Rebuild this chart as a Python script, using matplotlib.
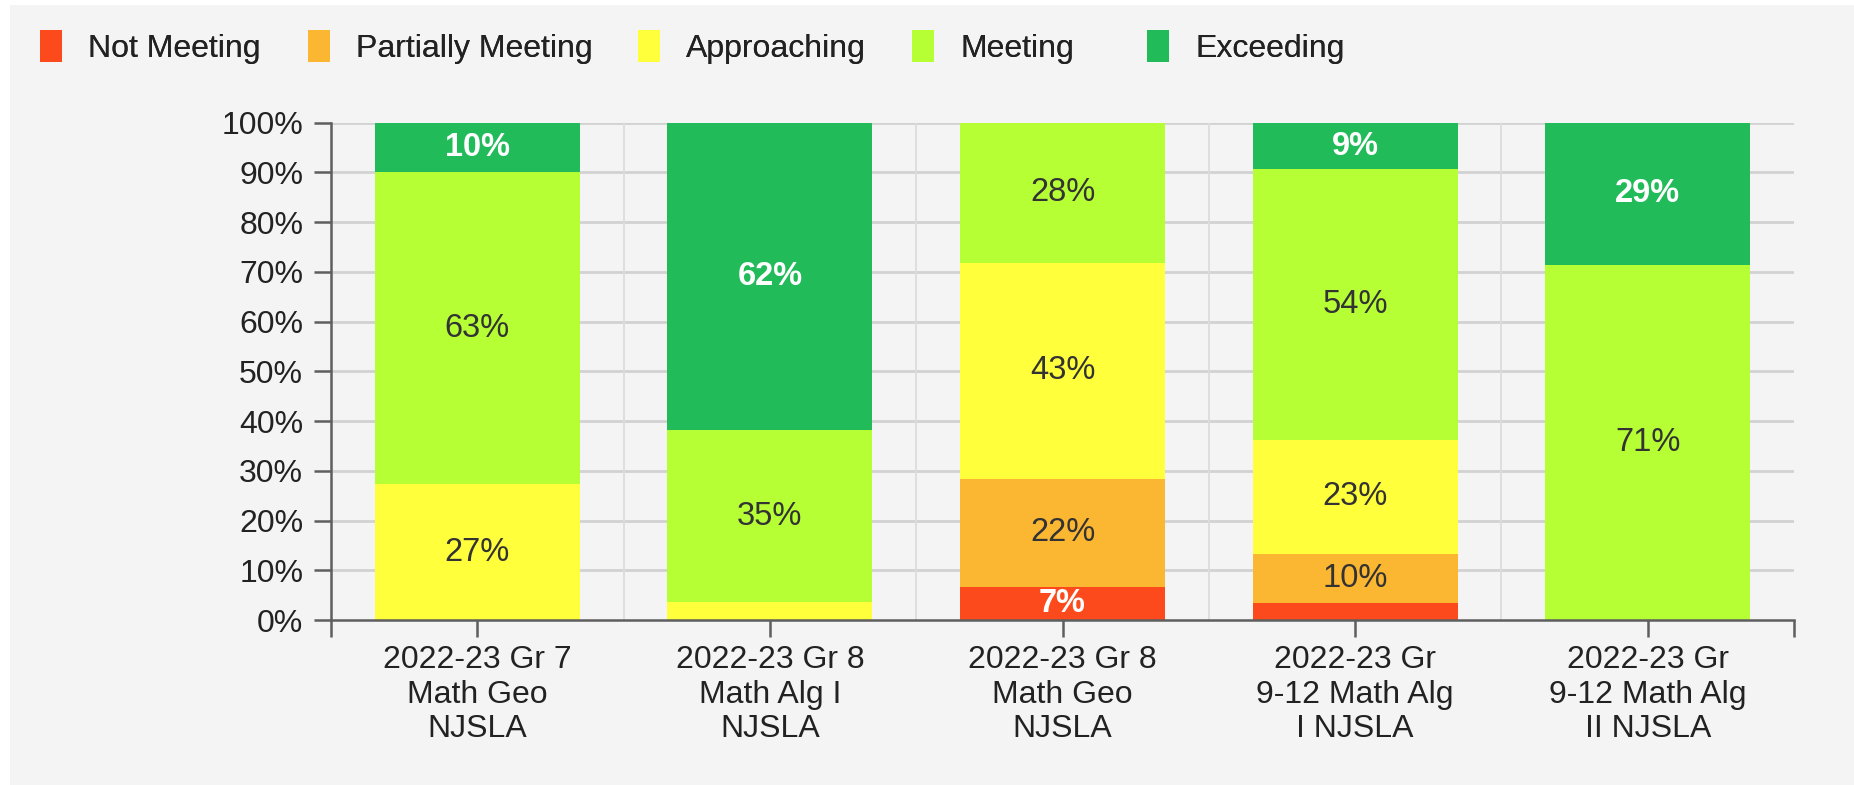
"""Stacked bar chart of NJSLA math performance levels."""

import matplotlib

matplotlib.use("Agg")
import matplotlib.pyplot as plt
from matplotlib.patches import Patch, Rectangle

plt.rcParams["font.family"] = ["Liberation Sans", "DejaVu Sans"]

categories = [
    "2022-23 Gr 7\nMath Geo\nNJSLA",
    "2022-23 Gr 8\nMath Alg I\nNJSLA",
    "2022-23 Gr 8\nMath Geo\nNJSLA",
    "2022-23 Gr\n9-12 Math Alg\nI NJSLA",
    "2022-23 Gr\n9-12 Math Alg\nII NJSLA",
]
levels = ["Not Meeting", "Partially Meeting", "Approaching", "Meeting", "Exceeding"]
not_meeting = [0, 0, 6.6, 3.4, 0]
partially_meeting = [0, 0, 21.8, 9.9, 0]
approaching = [27.3, 3.6, 43.4, 22.9, 0]
meeting = [62.7, 34.6, 28.2, 54.4, 71.4]
exceeding = [10.0, 61.8, 0, 9.4, 28.6]
y_ticks = [0, 10, 20, 30, 40, 50, 60, 70, 80, 90, 100]

series = [not_meeting, partially_meeting, approaching, meeting, exceeding]
colors = ["#FD4A1D", "#FCB732", "#FFFF3B", "#B6FF35", "#21BB59"]
dark_segment = [True, False, False, False, True]
# left edge of each legend swatch, in pixels
legend_x = [40, 308, 638, 912, 1147]

fig = plt.figure(figsize=(18.54, 7.85), dpi=100, facecolor="white")
fig.patches.append(
    Rectangle((10 / 1854, 0), 1, 1 - 5 / 785, transform=fig.transFigure,
              facecolor="#F4F4F4", edgecolor="none", zorder=-10)
)
ax = fig.add_axes([331 / 1854, 1 - 620 / 785, (1794 - 331) / 1854, (620 - 122.7) / 785])
ax.set_facecolor("none")

positions = list(range(len(categories)))
bottoms = [0.0] * len(categories)
for values, color, is_dark in zip(series, colors, dark_segment):
    ax.bar(positions, values, width=0.7, bottom=bottoms, color=color, zorder=3)
    for pos, value, base in zip(positions, values, bottoms):
        if value >= 5:
            ax.text(
                pos, base + value / 2, f"{round(value)}%",
                ha="center", va="center", fontsize=23.5,
                color="white" if is_dark else "#333333",
                fontweight="bold" if is_dark else "normal",
                zorder=4,
            )
    bottoms = [b + v for b, v in zip(bottoms, values)]

ax.set_xlim(-0.5, len(categories) - 0.5)
ax.set_ylim(0, 100)
ax.set_yticks(y_ticks, labels=[f"{t}%" for t in y_ticks])
ax.set_xticks(positions, labels=categories)
ax.set_xticks([-0.5, len(categories) - 0.5], minor=True)

for value in y_ticks[1:]:
    ax.axhline(value, color="#D2D2D2", linewidth=2, zorder=1)
for boundary in [p + 0.5 for p in positions[:-1]]:
    ax.axvline(boundary, color="#DCDCDC", linewidth=1.3, zorder=1)

for side in ["top", "right"]:
    ax.spines[side].set_visible(False)
for side in ["left", "bottom"]:
    ax.spines[side].set_color("#5E5E5E")
    ax.spines[side].set_linewidth(1.8)
    ax.spines[side].set_zorder(5)

ax.tick_params(axis="y", which="major", length=12, width=1.8, color="#5E5E5E",
               pad=8, labelsize=23, labelcolor="#222222")
ax.tick_params(axis="x", which="both", length=12, width=1.8, color="#5E5E5E",
               pad=6, labelsize=23, labelcolor="#222222")
for label in ax.get_xticklabels():
    label.set_linespacing(1.2)

for level, color, x_px in zip(levels, colors, legend_x):
    legend = fig.legend(
        [Patch(facecolor=color, edgecolor="none")], [level],
        loc="center left", bbox_to_anchor=(x_px / 1854, 1 - 47 / 785),
        frameon=False, fontsize=23, handlelength=0.7, handleheight=1.15,
        handletextpad=0.8, borderpad=0, borderaxespad=0, labelcolor="#222222",
    )
    fig.add_artist(legend)

fig.savefig("out.png", dpi=100, facecolor="white")
plt.close(fig)
